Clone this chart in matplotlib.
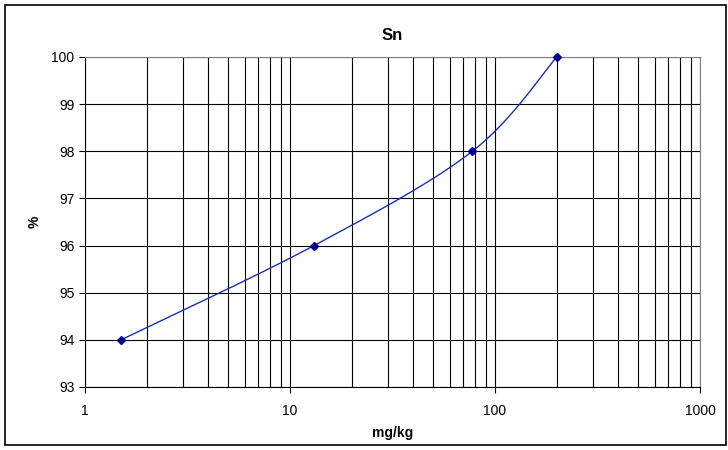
import numpy as np
import matplotlib
matplotlib.use("Agg")
import matplotlib.pyplot as plt
from matplotlib.patches import Rectangle
from matplotlib.ticker import FixedLocator, NullFormatter

x_vals = [1.5, 13.1, 77.5, 200.0]
y_vals = [94, 96, 98, 100]
x_ticks = [1, 10, 100, 1000]
x_tick_labels = ["1", "10", "100", "1000"]
y_ticks = [93, 94, 95, 96, 97, 98, 99, 100]
title = "Sn"
xlabel = "mg/kg"
ylabel = "%"

plt.rcParams['font.family'] = ['Liberation Sans', 'DejaVu Sans']

fig = plt.figure(figsize=(7.28, 4.5), dpi=100)
ax = fig.add_axes([85/728, 63/450, 615/728, 330/450])

# Excel-like smoothed curve (Catmull-Rom Bezier) in (log10 x, y) space
lx = np.log10(x_vals)
pts = np.column_stack([lx, y_vals])
n = len(pts)
curve = []
for i in range(n - 1):
    p0 = pts[max(i - 1, 0)]
    p1 = pts[i]
    p2 = pts[i + 1]
    p3 = pts[min(i + 2, n - 1)]
    c1 = p1 + (p2 - p0) / 6.0
    c2 = p2 - (p3 - p1) / 6.0
    t = np.linspace(0, 1, 60)[:, None]
    seg = ((1 - t) ** 3) * p1 + 3 * ((1 - t) ** 2) * t * c1 + 3 * (1 - t) * t ** 2 * c2 + t ** 3 * p2
    curve.append(seg)
curve = np.vstack(curve)

ax.set_xscale('log')
ax.set_xlim(1, 1000)
ax.set_ylim(93, 100)

ax.plot(10 ** curve[:, 0], curve[:, 1], color='#1a2fb5', lw=1.0, zorder=3, clip_on=False)
ax.plot(x_vals, y_vals, linestyle='none', marker='D', markersize=4.5,
        color='#00008b', zorder=4, clip_on=False)

ax.xaxis.set_major_locator(FixedLocator(x_ticks))
ax.set_xticklabels(x_tick_labels)
minor = [m * 10 ** d for d in range(3) for m in range(2, 10)]
ax.xaxis.set_minor_locator(FixedLocator(minor))
ax.xaxis.set_minor_formatter(NullFormatter())
ax.set_yticks(y_ticks)

ax.grid(True, which='major', color='black', lw=0.8)
ax.grid(True, which='minor', axis='x', color='black', lw=0.8)
ax.set_axisbelow(True)

ax.tick_params(axis='both', which='major', direction='out', length=4, width=0.8,
               labelsize=10, colors='black')
ax.tick_params(axis='x', which='minor', length=0)
ax.tick_params(axis='x', pad=8)

for s in ['top', 'right']:
    ax.spines[s].set_color('#808080')
for s in ['left', 'bottom']:
    ax.spines[s].set_color('black')

ax.set_title(title, fontsize=12, fontweight='bold', pad=12)
ax.set_xlabel(xlabel, fontsize=10, fontweight='bold', labelpad=6)
ax.set_ylabel(ylabel, fontsize=10, fontweight='bold', labelpad=7)

fig.patches.append(Rectangle((5/728, 5/450), 721/728, 440/450, transform=fig.transFigure,
                             fill=False, edgecolor='black', lw=1.2))

fig.savefig('out.png', dpi=100)
